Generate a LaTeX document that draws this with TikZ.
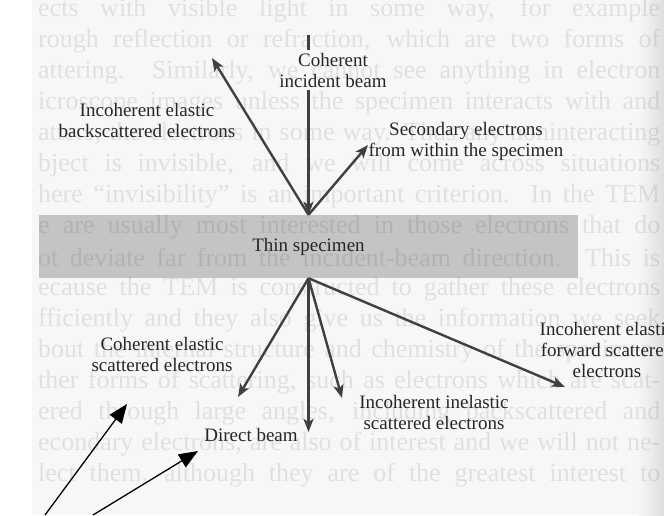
\documentclass[tikz,border=0pt]{standalone}
\usepackage{fontspec}
\setmainfont{Liberation Serif}
\usetikzlibrary{arrows.meta}
\begin{document}
\begin{tikzpicture}[x=1pt,y=-1pt,pagetext/.style={anchor=west,inner sep=0pt,text=black,text opacity=0.09,font=\fontsize{26}{28}\selectfont},lbl/.style={align=center,inner sep=0pt,outer sep=3pt,text=black!85,font=\fontsize{19}{21}\selectfont},specimen/.style={fill=black!23,minimum width=539pt,minimum height=63pt,inner sep=0pt,text=black!85,font=\fontsize{19}{21}\selectfont},ray/.style={draw=black!75,line width=2.4pt,-{Stealth[length=13pt,width=10pt,inset=3pt]}},raynoarrow/.style={draw=black!75,line width=2.4pt},pointer/.style={draw=black,line width=1.3pt,-{Triangle[length=19pt,width=15pt]}}]
\useasboundingbox (0,0) rectangle (664,515);
\fill[black!3] (0,0) rectangle (664,515);
\fill[white] (0,0) rectangle (32,515);
\shade[left color=black!3,right color=black!13] (638,0) rectangle (664,515);
\node[specimen] (spec) at (308.5,246.5) {Thin specimen};
\begin{scope}
\clip (0,0) rectangle (664,515);
\node[pagetext] (p1) at (38,10) {\makebox[622pt][s]{ects with visible light in some way, for example}};
\node[pagetext] (p2) at (38,41) {\makebox[622pt][s]{rough reflection or refraction, which are two forms of}};
\node[pagetext] (p3) at (38,72) {\makebox[622pt][s]{attering. Similarly, we cannot see anything in electron}};
\node[pagetext] (p4) at (38,103) {\makebox[622pt][s]{icroscope images unless the specimen interacts with and}};
\node[pagetext] (p5) at (38,134) {\makebox[622pt][s]{atters, the electrons in some way. Thus any noninteracting}};
\node[pagetext] (p6) at (38,165) {\makebox[622pt][s]{bject is invisible, and we will come across situations}};
\node[pagetext] (p7) at (38,196) {\makebox[622pt][s]{here ``invisibility'' is an important criterion. In the TEM}};
\node[pagetext] (p8) at (38,227) {\makebox[622pt][s]{e are usually most interested in those electrons that do}};
\node[pagetext] (p9) at (38,258) {\makebox[622pt][s]{ot deviate far from the incident-beam direction. This is}};
\node[pagetext] (p10) at (38,289) {\makebox[622pt][s]{ecause the TEM is constructed to gather these electrons}};
\node[pagetext] (p11) at (38,320) {\makebox[622pt][s]{fficiently and they also give us the information we seek}};
\node[pagetext] (p12) at (38,351) {\makebox[622pt][s]{bout the internal structure and chemistry of the specimen.}};
\node[pagetext] (p13) at (38,382) {\makebox[622pt][s]{ther forms of scattering, such as electrons which are scat-}};
\node[pagetext] (p14) at (38,413) {\makebox[622pt][s]{ered through large angles, including backscattered and}};
\node[pagetext] (p15) at (38,444) {\makebox[622pt][s]{econdary electrons, are also of interest and we will not ne-}};
\node[pagetext] (p16) at (38,475) {\makebox[622pt][s]{lect them, although they are of the greatest interest to}};
\end{scope}
\node[lbl] (inc) at (333,70) {Coherent\\incident beam};
\node[lbl] (bs) at (147,120) {Incoherent elastic\\backscattered electrons};
\node[lbl] (se) at (466,141) {Secondary electrons\\from within the specimen};
\node[lbl] (ce) at (162,354) {Coherent elastic\\scattered electrons};
\node[lbl] (fw) at (607,350) {Incoherent elastic\\forward scattered\\electrons};
\node[lbl] (ie) at (434,412) {Incoherent inelastic\\scattered electrons};
\node[lbl] (db) at (251,435) {Direct beam};
\coordinate (src) at (308.5,35);
\coordinate (bstip) at (212,58);
\coordinate (setip) at (368,145);
\coordinate (cetip) at (238,397);
\coordinate (dbtip) at (308.5,432);
\coordinate (ietip) at (342,398);
\coordinate (fwtip) at (565,387);
\coordinate (pa) at (45,515);
\coordinate (pat) at (127,404);
\coordinate (pb) at (93,515);
\coordinate (pbt) at (198,451);
\draw[raynoarrow] (src) -- (src |- inc.north);
\draw[ray] (src |- inc.south) -- (spec.north);
\draw[ray] (spec.north) -- (bstip);
\draw[ray] (spec.north) -- (setip);
\draw[ray] (spec.south) -- (cetip);
\draw[ray] (spec.south) -- (dbtip);
\draw[ray] (spec.south) -- (ietip);
\draw[ray] (spec.south) -- (fwtip);
\draw[pointer] (pa) -- (pat);
\draw[pointer] (pb) -- (pbt);
\end{tikzpicture}
\end{document}
